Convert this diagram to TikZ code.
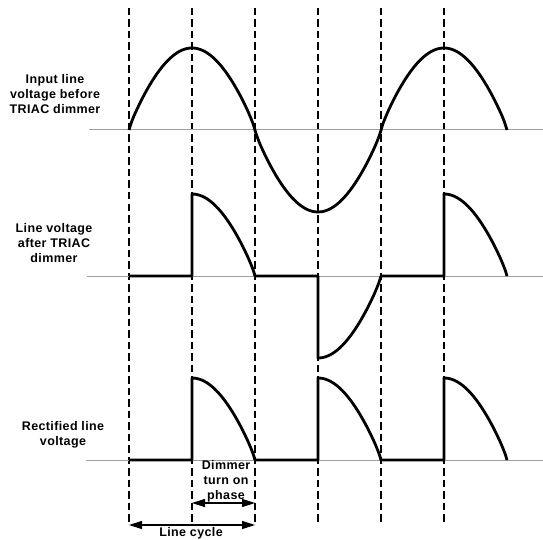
\documentclass[tikz,border=0pt]{standalone}
\usepackage{fontspec}
\setmainfont{Liberation Sans}
\newfontfamily\lblfont[LetterSpace=3]{Liberation Sans}
\usetikzlibrary{arrows.meta}

\begin{document}
\begin{tikzpicture}[
  x=1pt, y=-1pt,
  declare function={ph(\t)=sin((\t-129)*1.428571);
                    wv(\t)=sign(ph(\t))*(abs(ph(\t))+0.00001)^0.85;},
  wave/.style={line width=2.8pt, line join=round},
  base/.style={gray!75, line width=1pt},
  guide/.style={line width=1.7pt, dash pattern=on 7.5pt off 4pt},
  arr/.style={{Triangle[length=13pt,width=8pt]}-{Triangle[length=13pt,width=8pt]}, line width=1.2pt},
  lbl/.style={align=center, inner sep=0pt, font=\lblfont\bfseries\fontsize{12.5}{15}\selectfont}
]
\useasboundingbox (0,0) rectangle (543,540);
% time marks
\foreach \x in {129,192,255,318,381,444}
  \draw[guide] (\x,8) -- (\x,522);
% axes
\draw[base] (89,130) -- (543,130);
\draw[base] (87,276) -- (543,276);
\draw[base] (86,460) -- (543,460);
% input line voltage
\draw[wave] plot[domain=129:507, samples=150] (\x,{130-82*wv(\x)});
% after dimmer
\draw[wave] (129,276) -- (192,276) -- (192,194)
  -- plot[domain=192:255, samples=40] (\x,{276-82*wv(\x)})
  -- (318,276) -- (318,358)
  -- plot[domain=318:381, samples=40] (\x,{276-82*wv(\x)})
  -- (444,276) -- (444,194)
  -- plot[domain=444:507, samples=40] (\x,{276-82*wv(\x)});
% rectified
\draw[wave] (129,460) -- (192,460) -- (192,378)
  -- plot[domain=192:255, samples=40] (\x,{460-82*abs(wv(\x))})
  -- (318,460) -- (318,378)
  -- plot[domain=318:381, samples=40] (\x,{460-82*abs(wv(\x))})
  -- (444,460) -- (444,378)
  -- plot[domain=444:507, samples=40] (\x,{460-82*abs(wv(\x))});
% labels
\node[lbl] (inlbl)  at (55,94)    {Input line\\voltage before\\TRIAC dimmer};
\node[lbl] (dimlbl) at (54,243)   {Line voltage\\after TRIAC\\dimmer};
\node[lbl] (reclbl) at (63,434.5) {Rectified line\\voltage};
\node[lbl] (phlbl)  at (226,481.5){Dimmer\\turn on\\phase};
% spans
\coordinate (ph0) at (192,503);
\coordinate (ph1) at (255,503);
\coordinate (lc0) at (129,525);
\coordinate (lc1) at (255,525);
\draw[arr] (ph0) -- (ph1);
\draw[arr] (lc0) -- (lc1);
\node[lbl] (lclbl) at (191,533) {Line cycle};
\end{tikzpicture}
\end{document}
